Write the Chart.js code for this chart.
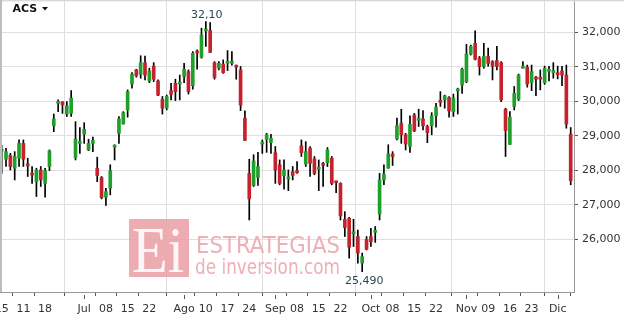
<!DOCTYPE html>
<html>
<head>
<meta charset="utf-8">
<script src="https://cdn.jsdelivr.net/npm/chart.js@4.4.1/dist/chart.umd.min.js"></script>
<style>
  html, body { margin: 0; padding: 0; background: #fff; }
  #chart { display: block; }
</style>
</head>
<body>
<canvas id="chart" width="624" height="320"></canvas>
<script>
// ACS daily candles
const opens = [28550,28320,28430,28060,28350,28780,28150,27880,27670,28010,27620,28110,
  29290,29940,29980,29630,29650,28370,28780,29050,28590,28780,28060,27790,27220,27480,
  28670,29070,29340,29750,30500,30910,30790,31120,30590,31020,30590,30060,29800,30310,
  30520,30500,30720,30860,30450,31430,31280,32040,32050,31120,30960,31080,31100,31100,
  31010,30910,29510,27910,27560,27790,28760,28900,28800,28510,28160,27840,27750,27960,
  27950,28710,28180,28640,28330,28030,28200,28220,28350,27660,27620,26580,26610,26160,
  26080,25310,26000,26080,26200,26730,27720,28060,28470,28910,29360,29030,28690,29600,
  29450,29490,29270,29290,29580,29990,30040,30110,29700,30300,30470,30570,31370,31680,
  31250,31010,31300,31150,31180,31120,29770,28750,29850,30060,30960,30990,30540,30700,
  30690,30540,30870,30830,30810,30880,30760,29050];
const highs = [28720,28640,28490,28540,28880,28880,28350,28110,28060,28110,28060,28590,
  29630,30040,29990,29990,30310,29410,29240,29380,28900,28960,28380,27820,27480,28160,
  28740,29560,29700,30330,30830,30930,31320,31310,30960,31120,30620,30140,30180,30520,
  30640,30760,31100,30910,31440,31490,32120,32310,32280,31150,31150,31200,31470,31440,
  31050,31010,29720,28320,28450,28520,28880,29070,29040,28690,28300,28300,28010,28110,
  28250,28880,28830,28690,28400,28300,28230,28660,28400,27670,27640,26800,26640,26580,
  26270,25600,26080,26320,26370,27910,28160,28740,28540,29510,29770,29070,29580,29650,
  29770,29730,29310,29670,29940,30280,30180,30140,30210,30380,30960,31650,31630,32040,
  31300,31680,31540,31180,31590,31150,29800,29700,30430,30790,31150,31050,31050,30720,
  30910,31020,31010,31120,31020,31010,31050,29240];
const lows = [27910,28110,28010,27720,28110,28110,27820,27620,27240,27530,27220,27990,
  29120,29700,29650,29560,29560,28300,28490,28780,28570,28540,27670,27170,26980,27290,
  28300,28780,29340,29540,30380,30700,30670,30620,30540,30570,30160,29630,29750,30040,
  30020,30040,30540,30210,30350,30930,31250,31590,31410,30640,30910,30810,30890,31050,
  30640,29730,28860,26560,27530,27560,28490,28520,28490,27620,27580,27450,27410,27720,
  27910,28400,28110,27820,27870,27410,27530,28110,27580,27350,26560,26080,25450,25790,
  25310,25060,25690,25790,25910,26560,27580,28060,28140,28880,28780,28590,28520,29120,
  29270,29170,28800,29030,29250,29850,29800,29540,29560,29630,30230,30540,31340,31200,
  30760,30960,31020,30620,30910,29990,28400,28750,29750,30020,30960,30410,30310,30160,
  30330,30490,30590,30670,30650,30450,29220,27580];
const closes = [28600,28540,28110,28400,28780,28320,28130,27860,28010,27720,27990,28560,
  29490,29960,29900,29870,30090,28910,28800,29190,28780,28870,27850,27210,27380,27990,
  28690,29490,29670,30280,30790,30740,31120,30760,30880,30640,30180,29800,30140,30200,
  30280,30520,30930,30280,31390,31400,31920,32090,31420,30690,31100,30830,31120,31120,
  30990,29890,28870,27170,28270,28110,28800,29030,28930,28010,27620,28010,27770,27850,
  27930,28510,28540,28200,27910,28050,28140,28590,27620,27640,26680,26340,25770,26180,
  25600,25500,25710,25930,26240,27720,27890,28470,28400,29290,29030,28760,29330,29140,
  29470,29290,29090,29580,29830,29970,30160,29720,30090,30320,30930,31370,31590,31220,
  31010,31310,31100,31020,31010,30040,29150,29540,30230,30760,30990,30500,30860,30640,
  30640,30960,30890,30850,30770,30760,29340,27700];

const tickIdx = [0,5,10,19,24,29,34,42,47,52,57,63,68,73,78,85,90,95,100,107,112,117,122,128];
const tickLabels = ['15','11','18','Jul','08','15','22','Ago','10','17','24','Sep',
  '08','15','22','Oct','08','15','22','Nov','09','16','23','Dic'];
const monthLabels = ['Jul','Ago','Sep','Oct','Nov','Dic'];
const yTicks = [26000,27000,28000,29000,30000,31000,32000];

const symbol = 'ACS';
const highLabel = '32,10';
const lowLabel = '25,490';

const GREEN = '#1fa02a';
const RED = '#c4222d';
const FONT = '"DejaVu Sans", Verdana, sans-serif';

const idx = opens.map((_, i) => i);
const isMonth = i => monthLabels.includes(tickLabels[i]);

const decor = {
  id: 'decor',
  beforeDatasetsDraw(chart) {
    const ctx = chart.ctx;
    ctx.save();
    // watermark
    ctx.globalAlpha = 0.9;
    ctx.fillStyle = '#eba3a9';
    ctx.fillRect(129, 219, 60, 58);
    ctx.fillStyle = '#fff';
    ctx.font = '66px "Liberation Serif", serif';
    ctx.textBaseline = 'alphabetic';
    ctx.fillText('Ei', 132, 272, 52);
    ctx.fillStyle = '#eca7ad';
    ctx.font = '23px ' + FONT;
    ctx.fillText('ESTRATEGIAS', 196, 253, 144);
    ctx.font = '22px ' + FONT;
    ctx.fillText('de inversion.com', 195, 274, 145);
    ctx.restore();
  },
  afterDraw(chart) {
    const ctx = chart.ctx;
    const xs = chart.scales.x, ys = chart.scales.y;
    const area = chart.chartArea;
    ctx.save();
    // longer ticks at month starts
    ctx.strokeStyle = '#555';
    ctx.lineWidth = 1;
    tickIdx.forEach((v, i) => {
      if (!isMonth(i)) return;
      const px = Math.round(xs.getPixelForValue(v)) + 0.5;
      ctx.beginPath();
      ctx.moveTo(px, area.bottom + 3);
      ctx.lineTo(px, area.bottom + 7);
      ctx.stroke();
    });
    // max / min labels
    let hi = 0, lo = 0;
    idx.forEach(i => {
      if (highs[i] > highs[hi]) hi = i;
      if (lows[i] < lows[lo]) lo = i;
    });
    ctx.fillStyle = '#2c4754';
    ctx.font = '11px ' + FONT;
    ctx.textAlign = 'center';
    ctx.textBaseline = 'middle';
    ctx.fillText(highLabel, xs.getPixelForValue(hi) + 1, ys.getPixelForValue(highs[hi]) - 6);
    ctx.fillText(lowLabel, xs.getPixelForValue(lo) + 2, ys.getPixelForValue(lows[lo]) + 9.5);
    // title
    ctx.fillStyle = '#111';
    ctx.textAlign = 'left';
    ctx.textBaseline = 'alphabetic';
    ctx.font = 'bold 11px ' + FONT;
    ctx.fillText(symbol, 12.5, 12);
    ctx.beginPath();
    ctx.moveTo(42, 7); ctx.lineTo(48, 7); ctx.lineTo(45, 10.5); ctx.closePath();
    ctx.fill();
    // frame shading
    const g = ctx.createLinearGradient(0, 0, 0, 3);
    g.addColorStop(0, '#c8c8c8');
    g.addColorStop(1, 'rgba(255,255,255,0)');
    ctx.fillStyle = g;
    ctx.fillRect(0, 0, chart.width, 3);
    ctx.fillStyle = '#bdbdbd';
    ctx.fillRect(0, 0, 2, area.bottom);
    ctx.restore();
  }
};

new Chart(document.getElementById('chart'), {
  type: 'bar',
  data: {
    datasets: [
      {
        label: 'body',
        data: idx.map(i => ({ x: i, y: [opens[i], closes[i]] })),
        backgroundColor: idx.map(i => closes[i] >= opens[i] ? GREEN : RED),
        barThickness: 3,
        minBarLength: 2,
        grouped: false
      },
      {
        label: 'wick',
        data: idx.map(i => ({ x: i, y: [lows[i], highs[i]] })),
        backgroundColor: '#000',
        barThickness: 1,
        grouped: false
      }
    ]
  },
  options: {
    responsive: false,
    animation: false,
    layout: { padding: 0 },
    plugins: { legend: { display: false }, tooltip: { enabled: false } },
    scales: {
      x: {
        type: 'linear',
        min: -0.384,
        max: 131.76,
        offset: false,
        afterBuildTicks: s => { s.ticks = tickIdx.map(v => ({ value: v })); },
        afterFit: s => { s.height = 28; s.paddingLeft = 0; s.paddingRight = 0; },
        ticks: {
          autoSkip: false,
          maxRotation: 0,
          padding: 7,
          color: '#333',
          font: { family: FONT, size: 11 },
          callback: (v, i) => tickLabels[i]
        },
        grid: {
          color: c => isMonth(c.index) ? '#dedede' : 'rgba(0,0,0,0)',
          tickColor: '#555',
          tickLength: 4
        },
        border: { color: '#999' }
      },
      y: {
        position: 'right',
        min: 24472,
        max: 32936,
        afterBuildTicks: s => { s.ticks = yTicks.map(v => ({ value: v })); },
        afterFit: s => { s.width = 50; s.paddingTop = 0; s.paddingBottom = 0; },
        ticks: {
          padding: 4,
          color: '#333',
          font: { family: FONT, size: 11 },
          callback: v => v.toLocaleString('en-US')
        },
        grid: { color: '#e0e0e0', tickColor: '#555', tickLength: 4 },
        border: { color: '#999' }
      }
    }
  },
  plugins: [decor]
});
</script>
</body>
</html>
